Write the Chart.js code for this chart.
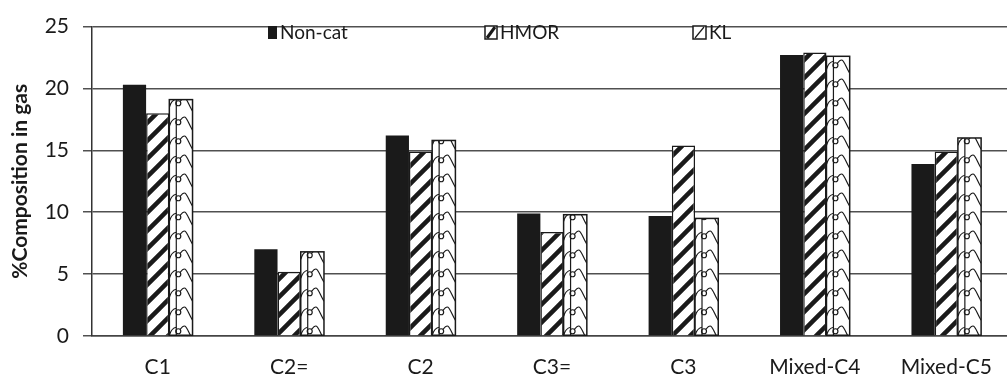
<!DOCTYPE html>
<html>
<head>
<meta charset="utf-8">
<script src="https://cdn.jsdelivr.net/npm/chart.js@4.4.0/dist/chart.umd.min.js"></script>
<style>
  html, body { margin: 0; padding: 0; background: #fff; overflow: hidden; }
  #wrap { position: relative; width: 1016px; height: 381px; }
</style>
</head>
<body>
<div id="wrap"><canvas id="gasChart"></canvas></div>
<script>
// data
const categories = ['C1', 'C2=', 'C2', 'C3=', 'C3', 'Mixed-C4', 'Mixed-C5'];
const nonCat = [20.3, 7.0, 16.2, 9.9, 9.7, 22.7, 13.9];
const hmor   = [18.0, 5.2, 14.9, 8.4, 15.4, 22.9, 14.9];
const kl     = [19.1, 6.8, 15.8, 9.8, 9.5, 22.6, 16.0];
const yTicks = [0, 5, 10, 15, 20, 25];

const FONT = 'Lato, "Open Sans", sans-serif';
const INK = '#1a1a1a';

// diagonal "/" hatching for HMOR
function makeHatch() {
    const s = 18;
    const c = document.createElement('canvas');
    c.width = s; c.height = s;
    const g = c.getContext('2d');
    g.fillStyle = '#fff';
    g.fillRect(0, 0, s, s);
    g.strokeStyle = INK;
    g.lineWidth = 4.5;
    g.beginPath();
    g.moveTo(-s / 2, s * 1.5); g.lineTo(s * 1.5, -s / 2);
    g.moveTo(-s, s); g.lineTo(s, -s);
    g.moveTo(0, s * 2); g.lineTo(s * 2, 0);
    g.stroke();
    return g.createPattern(c, 'repeat');
}

// scalloped pattern for KL, drawn inside each bar
const scallopPlugin = {
    id: 'scallop',
    afterDatasetDraw(chart, args) {
        if (args.index !== 2) return;
        const ctx = chart.ctx;
        args.meta.data.forEach(function(bar) {
            const p = bar.getProps(['x', 'y', 'base', 'width'], true);
            const left = p.x - p.width / 2, right = p.x + p.width / 2;
            const lx = left + p.width * 0.3;
            ctx.save();
            ctx.beginPath();
            ctx.rect(left, p.y, p.width, p.base - p.y);
            ctx.clip();
            ctx.strokeStyle = INK;
            ctx.lineWidth = 1.2;
            ctx.beginPath();
            ctx.moveTo(lx, p.y); ctx.lineTo(lx, p.base);
            ctx.stroke();
            for (let yy = p.base - 4; yy > p.y - 20; yy -= 19) {
                ctx.beginPath();
                ctx.arc(lx + 2, yy, 2.5, 0, Math.PI * 2);
                ctx.moveTo(lx + 4, yy - 2);
                ctx.bezierCurveTo(lx + 10, yy - 10, right - 6, yy - 2, right, yy + 8);
                ctx.moveTo(lx, yy - 4);
                ctx.quadraticCurveTo(left + 2, yy - 3, left, yy + 4);
                ctx.stroke();
            }
            ctx.restore();
            ctx.strokeStyle = INK;
            ctx.lineWidth = 1.5;
            ctx.strokeRect(left, p.y, p.width, p.base - p.y);
        });
    }
};

// legend sits inside the plot, spread out like the original
const legendPlugin = {
    id: 'insideLegend',
    afterDraw(chart) {
        const ctx = chart.ctx;
        const items = [
            { x: 268, w: 9 },
            { x: 485, w: 12 },
            { x: 693, w: 13 }
        ];
        const y = 32;
        ctx.save();
        ctx.font = '19px ' + FONT;
        ctx.textBaseline = 'middle';
        chart.data.datasets.forEach(function(ds, i) {
            const it = items[i];
            if (i === 0) {
                ctx.fillStyle = INK;
                ctx.fillRect(it.x, y - 6, it.w, 13);
            } else {
                ctx.fillStyle = '#fff';
                ctx.fillRect(it.x, y - 6, it.w, 13);
                ctx.strokeStyle = INK;
                ctx.lineWidth = 1.5;
                ctx.strokeRect(it.x, y - 6, it.w, 13);
                ctx.beginPath();
                ctx.lineWidth = i === 1 ? 3 : 1.2;
                ctx.moveTo(it.x + 2, y + 6);
                ctx.lineTo(it.x + it.w - 2, y - 5);
                ctx.stroke();
            }
            ctx.fillStyle = INK;
            ctx.fillText(ds.label, it.x + it.w + 3, y + 1);
        });
        ctx.restore();
    }
};

const ctx = document.getElementById('gasChart').getContext('2d');
const gasChart = new Chart(ctx, {
    type: 'bar',
    data: {
        labels: categories,
        datasets: [{
            label: 'Non-cat',
            data: nonCat,
            backgroundColor: INK,
            borderWidth: 0
        }, {
            label: 'HMOR',
            data: hmor,
            backgroundColor: makeHatch(),
            borderColor: INK,
            borderWidth: 1.5
        }, {
            label: 'KL',
            data: kl,
            backgroundColor: '#fff',
            borderWidth: 0
        }]
    },
    options: {
        responsive: true,
        maintainAspectRatio: false,
        animation: false,
        categoryPercentage: 0.53,
        barPercentage: 1.0,
        layout: { padding: { top: 24, right: 4, left: 0, bottom: 0 } },
        plugins: {
            legend: { display: false },
            tooltip: { enabled: false }
        },
        scales: {
            x: {
                grid: { display: false, drawTicks: false },
                border: { display: true, color: '#444', width: 1.5 },
                ticks: {
                    color: INK,
                    padding: 19,
                    font: { family: FONT, size: 21 }
                },
                afterFit: function(scale) { scale.height = 45; }
            },
            y: {
                min: 0,
                max: 25,
                afterBuildTicks: function(scale) {
                    scale.ticks = yTicks.map(function(v) { return { value: v }; });
                },
                grid: { color: '#505050', lineWidth: 1.5, tickLength: 9 },
                border: { display: true, color: '#333', width: 1.5 },
                ticks: {
                    color: INK,
                    padding: 14,
                    font: { family: FONT, size: 21 }
                },
                title: {
                    display: true,
                    text: '%Composition in gas',
                    color: INK,
                    padding: { top: 8, bottom: 0 },
                    font: { family: FONT, size: 21, weight: 'bold' }
                },
                afterFit: function(scale) { scale.width = 92; }
            }
        }
    },
    plugins: [scallopPlugin, legendPlugin]
});
</script>
</body>
</html>
